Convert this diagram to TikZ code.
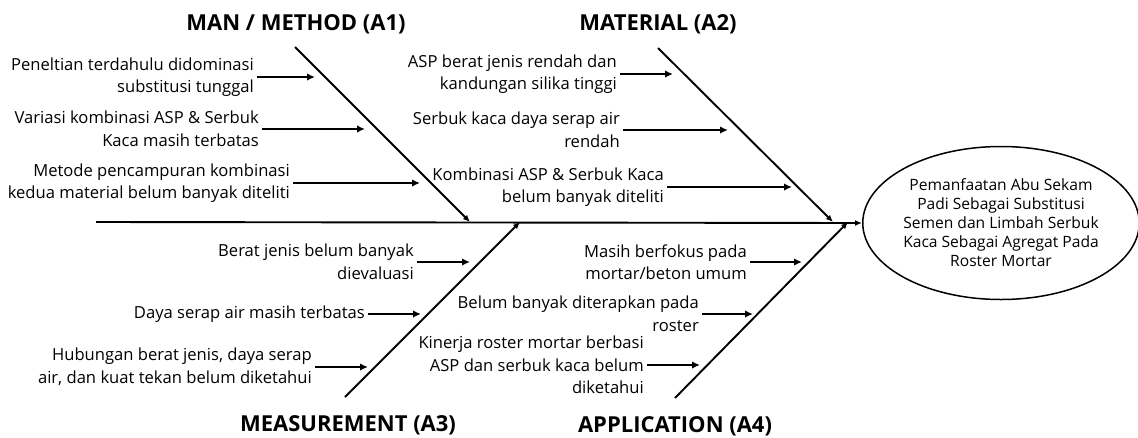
\documentclass[tikz,border=0pt]{standalone}
\usepackage{fontspec}
\setmainfont{Open Sans}
\usepackage{tikz}
\usetikzlibrary{arrows,arrows.meta,shapes}
\tikzstyle{cause}=[anchor=east,align=right,inner sep=3pt,font=\fontsize{16.6}{22.5}\selectfont]
\tikzstyle{title}=[font=\fontsize{22}{26}\selectfont\bfseries]
\tikzstyle{bone} = [draw,line width=1.9pt,-{Latex[length=7pt,width=6pt]}]
\tikzstyle{twig} = [draw,line width=1.9pt,-{Latex[length=8pt,width=7.5pt]}]
\tikzstyle{effect}=[ellipse,draw,line width=1.5pt,minimum width=271pt,minimum height=153pt,inner sep=0pt,align=center,font=\fontsize{15.6}{19}\selectfont]

\begin{document}
\begin{tikzpicture}[x=1pt,y=-1pt]
    \useasboundingbox (0,0) rectangle (1138,437);
    % Draw the fishbone
    % First the head and the spine
    \node[effect] (head) at (1001,223) {Pemanfaatan Abu Sekam\\Padi Sebagai Substitusi\\Semen dan Limbah Serbuk\\Kaca Sebagai Agregat Pada\\Roster Mortar};
    \coordinate (tail) at (96,222);
    \path[bone] (tail) -- (head.west);
    % Then the four main bones and their titles
    \coordinate (A1top) at (295,47);  \coordinate (A1tip) at (470,222);
    \coordinate (A2top) at (658,48);  \coordinate (A2tip) at (833,222);
    \coordinate (A3top) at (345,397); \coordinate (A3tip) at (520,222);
    \coordinate (A4top) at (675,398); \coordinate (A4tip) at (848,222);
    \foreach \source/\dest in {A1top/A1tip, A2top/A2tip, A3top/A3tip, A4top/A4tip}
        \path[bone] (\source) -- (\dest);
    \node[title] (tA1) at (296,24) {MAN / METHOD (A1)};
    \node[title] (tA2) at (658,24) {MATERIAL (A2)};
    \node[title] (tA3) at (348,425) {MEASUREMENT (A3)};
    \node[title] (tA4) at (675,426) {APPLICATION (A4)};
    % Causes with their small arrows
    \foreach \pos/\tip/\name/\txt in {
        {(257,77)/(315,77)/c11/{Peneltian terdahulu didominasi\\substitusi tunggal}},
        {(262,129)/(365,129)/c12/{Variasi kombinasi ASP \& Serbuk\\Kaca masih terbatas}},
        {(293,183)/(420,183)/c13/{Metode pencampuran kombinasi\\kedua material belum banyak diteliti}},
        {(620,74)/(673,74)/c21/{ASP berat jenis rendah dan\\kandungan silika tinggi}},
        {(623,130)/(728,130)/c22/{Serbuk kaca daya serap air\\rendah}},
        {(667,187)/(792,187)/c23/{Kombinasi ASP \& Serbuk Kaca\\belum banyak diteliti}},
        {(417,262)/(470,262)/c31/{Berat jenis belum banyak\\dievaluasi}},
        {(368,314)/(421,314)/c32/{Daya serap air masih terbatas}},
        {(315,367)/(368,367)/c33/{Hubungan berat jenis, daya serap\\air, dan kuat tekan belum diketahui}},
        {(750,262)/(802,262)/c41/{Masih berfokus pada\\mortar/beton umum}},
        {(702,314)/(753,314)/c42/{Belum banyak diterapkan pada\\roster}},
        {(647,365)/(700,365)/c43/{Kinerja roster mortar berbasi\\ASP dan serbuk kaca belum\\diketahui}}}
    {
        \node[cause] (\name) at \pos {\txt};
        \path[twig] (\name.east) -- \tip coordinate (\name-end);
    }
\end{tikzpicture}
\end{document}
